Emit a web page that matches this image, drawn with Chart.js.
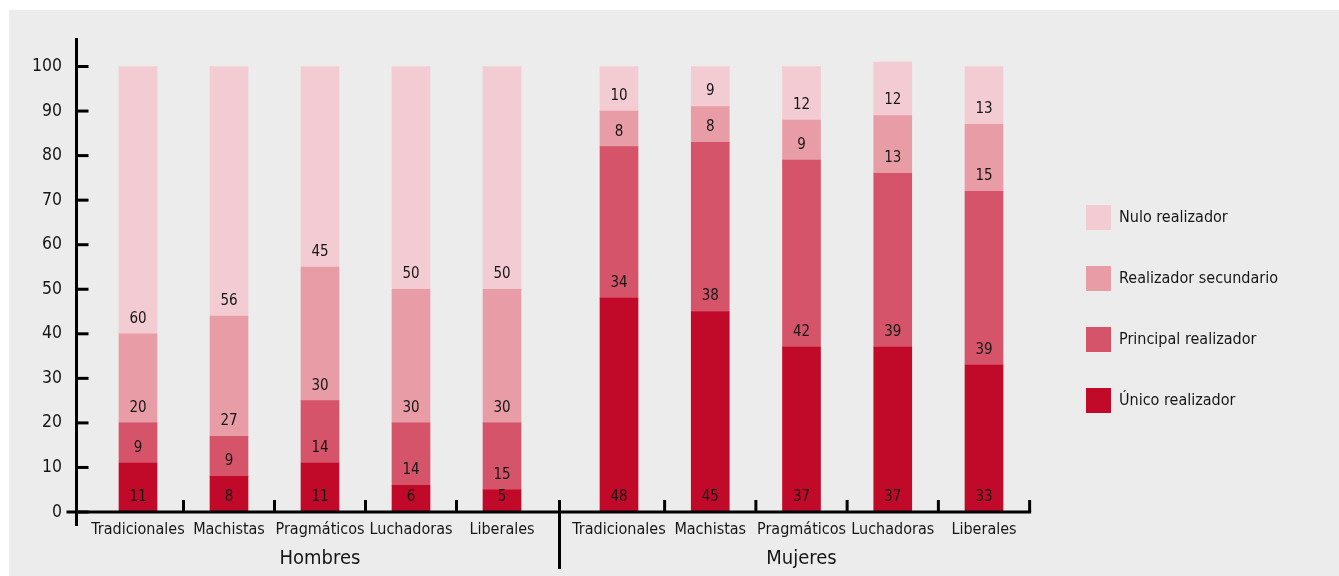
<!DOCTYPE html>
<html lang="es">
<head>
<meta charset="utf-8">
<title>Realizadores por tipo</title>
<script src="https://cdn.jsdelivr.net/npm/chart.js@4.4.1/dist/chart.umd.min.js"></script>
<style>
	body { margin: 0; background: #ffffff; }
	#grafico { display: block; }
</style>
</head>
<body>
<canvas id="grafico" width="1339" height="576"></canvas>
<script>
const categorias = ['Tradicionales', 'Machistas', 'Pragmáticos', 'Luchadoras', 'Liberales'];
const grupos = ['Hombres', 'Mujeres'];
const series = ['Único realizador', 'Principal realizador', 'Realizador secundario', 'Nulo realizador'];

const hombresUnico = [11, 8, 11, 6, 5];
const hombresPrincipal = [9, 9, 14, 14, 15];
const hombresSecundario = [20, 27, 30, 30, 30];
const hombresNulo = [60, 56, 45, 50, 50];

const mujeresUnico = [48, 45, 37, 37, 33];
const mujeresPrincipal = [34, 38, 42, 39, 39];
const mujeresSecundario = [8, 8, 9, 13, 15];
const mujeresNulo = [10, 9, 12, 12, 13];

const ejeYMaximo = 100;
const ejeYPaso = 10;

const colores = ['#c10a2a', '#d55469', '#e79ca6', '#f3ccd3'];
const fuente = "'Liberation Sans Narrow', 'Noto Sans Condensed', 'DejaVu Sans Condensed', sans-serif";
const colorTexto = '#161616';
const tamLeyenda = 16;

const datosHombres = [hombresUnico, hombresPrincipal, hombresSecundario, hombresNulo];
const datosMujeres = [mujeresUnico, mujeresPrincipal, mujeresSecundario, mujeresNulo];

const datasets = [];
series.forEach((nombre, i) => {
	datasets.push({
		label: nombre,
		data: datosHombres[i],
		xAxisID: 'xH',
		backgroundColor: colores[i],
		borderWidth: 0,
		grouped: false,
		barPercentage: 1,
		categoryPercentage: 1,
		maxBarThickness: 38
	});
});
series.forEach((nombre, i) => {
	datasets.push({
		label: nombre,
		data: datosMujeres[i],
		xAxisID: 'xM',
		backgroundColor: colores[i],
		borderWidth: 0,
		grouped: false,
		barPercentage: 1,
		categoryPercentage: 1,
		maxBarThickness: 38
	});
});

// ancho de la leyenda para dejarla en su sitio (cuadro en x = 1086)
const medidor = document.createElement('canvas').getContext('2d');
medidor.font = tamLeyenda + 'px ' + fuente;
const textoMasLargo = Math.max(...series.map(s => medidor.measureText(s).width));
const anchoLeyenda = 36 + 25 + tamLeyenda / 2 + textoMasLargo + 10;
const margenDerecho = Math.max(0, 1339 - (1086 - 36) - anchoLeyenda);

// primera barra a "primera" px del borde del area, con "paso" px entre barras
function ajustarEje(chart, eje, primera, paso) {
	const inicio = chart.chartArea.left + primera;
	eje._valueRange = eje.width / paso;
	eje._startValue = -(inicio - eje.left) / paso;
}

const ajusteEjes = {
	id: 'ajusteEjes',
	afterLayout(chart) {
		ajustarEje(chart, chart.scales.xH, 62, 91);
		ajustarEje(chart, chart.scales.xM, 543, 91.25);
	}
};

const decorado = {
	id: 'decorado',
	beforeDraw(chart) {
		const ctx = chart.ctx;
		ctx.save();
		ctx.fillStyle = '#ffffff';
		ctx.fillRect(0, 0, chart.width, chart.height);
		ctx.fillStyle = '#ececec';
		ctx.fillRect(9, 10, chart.width - 9, chart.height - 10);
		ctx.restore();
	},
	afterDatasetsDraw(chart) {
		const ctx = chart.ctx;
		const y = chart.scales.y;
		const xH = chart.scales.xH;
		const xM = chart.scales.xM;
		const base = y.getPixelForValue(0);
		const izquierda = chart.chartArea.left + 0.5;
		const ultima = categorias.length - 1;

		ctx.save();

		// valores dentro de las barras, junto a la base de cada tramo
		ctx.fillStyle = colorTexto;
		ctx.font = '15px ' + fuente;
		ctx.textAlign = 'center';
		ctx.textBaseline = 'middle';
		chart.data.datasets.forEach((ds, i) => {
			const meta = chart.getDatasetMeta(i);
			meta.data.forEach((barra, j) => {
				ctx.fillText(ds.data[j], barra.x, barra.base - 15);
			});
		});

		ctx.strokeStyle = '#000000';
		ctx.lineWidth = 3;
		ctx.lineCap = 'butt';

		// marcas entre categorias
		const pasoM = xM.getPixelForTick(1) - xM.getPixelForTick(0);
		const finEje = xM.getPixelForTick(ultima) + pasoM / 2;
		const separador = (xH.getPixelForTick(ultima) + xM.getPixelForTick(0)) / 2 - 1;
		[xH, xM].forEach(eje => {
			for (let i = 1; i < categorias.length; i++) {
				const xm = (eje.getPixelForTick(i - 1) + eje.getPixelForTick(i)) / 2;
				ctx.beginPath();
				ctx.moveTo(xm, base - 12);
				ctx.lineTo(xm, base);
				ctx.stroke();
			}
		});
		ctx.beginPath();
		ctx.moveTo(finEje, base - 12);
		ctx.lineTo(finEje, base);
		ctx.stroke();

		// separador entre grupos
		ctx.beginPath();
		ctx.moveTo(separador, base - 12);
		ctx.lineTo(separador, base + 57);
		ctx.stroke();

		// eje x
		ctx.beginPath();
		ctx.moveTo(izquierda - 10, base);
		ctx.lineTo(finEje + 1.5, base);
		ctx.stroke();

		// eje y y sus marcas
		ctx.beginPath();
		ctx.moveTo(izquierda, 38);
		ctx.lineTo(izquierda, base + 14);
		ctx.stroke();
		y.ticks.forEach(t => {
			const py = y.getPixelForValue(t.value);
			ctx.beginPath();
			ctx.moveTo(izquierda, py);
			ctx.lineTo(izquierda + 12, py);
			ctx.stroke();
		});

		// nombres de los grupos
		ctx.font = '20px ' + fuente;
		ctx.fillStyle = colorTexto;
		[xH, xM].forEach((eje, i) => {
			const centro = (eje.getPixelForTick(0) + eje.getPixelForTick(ultima)) / 2;
			ctx.fillText(grupos[i], centro, base + 47);
		});

		ctx.restore();
	}
};

const ejeCategorias = (peso) => ({
	type: 'category',
	position: 'bottom',
	stacked: true,
	stack: 'grupos',
	stackWeight: peso,
	offset: true,
	border: { display: false },
	grid: { display: false, drawTicks: false },
	ticks: {
		autoSkip: false,
		maxRotation: 0,
		minRotation: 0,
		padding: 8,
		color: colorTexto,
		font: { family: fuente, size: 16 }
	},
	afterFit: (eje) => { eje.height = 64; }
});

new Chart(document.getElementById('grafico'), {
	type: 'bar',
	data: {
		labels: categorias,
		datasets: datasets
	},
	options: {
		responsive: false,
		animation: false,
		layout: {
			padding: { top: 42, right: margenDerecho, bottom: 0, left: 0 }
		},
		scales: {
			xH: ejeCategorias(483),
			xM: ejeCategorias(471),
			y: {
				stacked: true,
				min: 0,
				max: 105.5,
				border: { display: false },
				grid: { display: false, drawTicks: false },
				ticks: {
					stepSize: ejeYPaso,
					padding: 14,
					color: colorTexto,
					font: { family: fuente, size: 17.5 }
				},
				afterBuildTicks: (eje) => {
					eje.ticks = eje.ticks.filter(t => t.value <= ejeYMaximo);
				},
				afterFit: (eje) => { eje.width = 76; }
			}
		},
		plugins: {
			legend: {
				position: 'right',
				reverse: true,
				labels: {
					boxWidth: 25,
					boxHeight: 25,
					padding: 36,
					color: colorTexto,
					font: { family: fuente, size: tamLeyenda },
					filter: (item) => item.datasetIndex < series.length
				}
			},
			tooltip: { enabled: false }
		}
	},
	plugins: [ajusteEjes, decorado]
});
</script>
</body>
</html>
